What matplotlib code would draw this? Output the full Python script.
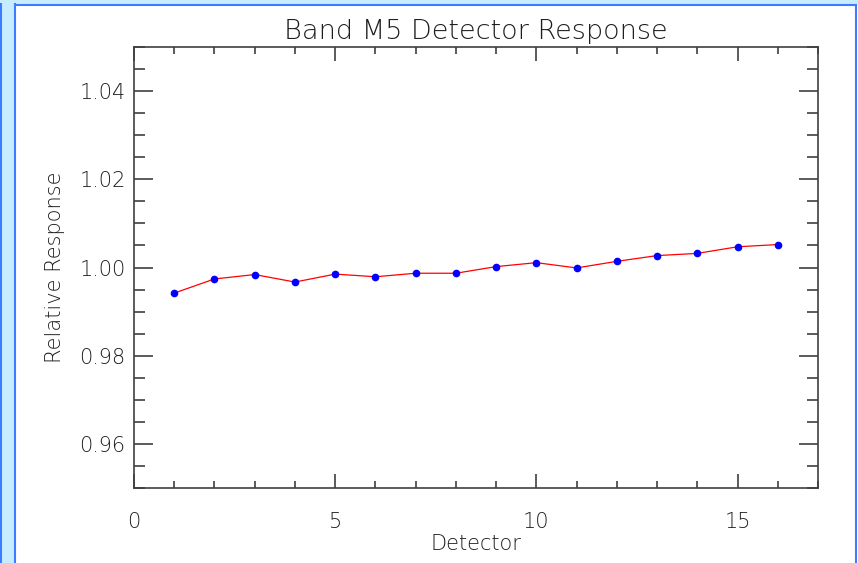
import matplotlib
matplotlib.use('Agg')
import matplotlib.pyplot as plt
from matplotlib.patches import Rectangle
from matplotlib.ticker import MultipleLocator

detectors = [1, 2, 3, 4, 5, 6, 7, 8, 9, 10, 11, 12, 13, 14, 15, 16]
response = [0.9942, 0.9974, 0.9984, 0.9967, 0.9985, 0.9979, 0.9987, 0.9987,
            1.0002, 1.0011, 0.9999, 1.0014, 1.0027, 1.0032, 1.0047, 1.0052]

plt.rcParams['font.family'] = ['DejaVu Sans']
plt.rcParams['font.weight'] = 'light'
txt = '#1e1e1e'

fig = plt.figure(figsize=(8.58, 5.63), dpi=100)
W, H = 858, 563

# window frame on left/top/right edges
fig.patches.append(Rectangle((0, 0), 15 / W, 1, transform=fig.transFigure,
                             facecolor='#c8ecff', edgecolor='none', zorder=0))
fig.patches.append(Rectangle((0, 1 - 4 / H), 1, 4 / H, transform=fig.transFigure,
                             facecolor='#c8ecff', edgecolor='none', zorder=0))
for x in (0.5, 15):
    fig.add_artist(plt.Line2D([x / W, x / W], [0, 1 - 4 / H], transform=fig.transFigure,
                              color='#3d7cff', lw=1.5))
fig.add_artist(plt.Line2D([15 / W, 856 / W], [1 - 4.5 / H, 1 - 4.5 / H],
                          transform=fig.transFigure, color='#3d7cff', lw=1.5))
fig.add_artist(plt.Line2D([856 / W, 856 / W], [0, 1 - 4.5 / H], transform=fig.transFigure,
                          color='#3d7cff', lw=1.5))

ax = fig.add_axes([134 / W, 1 - 488 / H, (818 - 134) / W, (488 - 47) / H])
ax.plot(detectors, response, color='red', lw=0.9)
ax.plot(detectors, response, 'o', color='blue', ms=4.5)

ax.set_xlim(0, 17)
ax.set_ylim(0.95, 1.05)
ax.xaxis.set_major_locator(MultipleLocator(5))
ax.xaxis.set_minor_locator(MultipleLocator(1))
ax.yaxis.set_major_locator(MultipleLocator(0.02))
ax.yaxis.set_minor_locator(MultipleLocator(0.005))
ax.yaxis.set_major_formatter(matplotlib.ticker.FormatStrFormatter('%.2f'))

ax.tick_params(which='both', direction='in', top=True, right=True,
               colors='#404040', labelcolor=txt, labelsize=15)
ax.tick_params(axis='y', which='major', length=14, width=1.2, pad=6)
ax.tick_params(axis='y', which='minor', length=8, width=1.2)
ax.tick_params(axis='x', which='major', length=10, width=1.2, pad=17)
ax.tick_params(axis='x', which='minor', length=5, width=1.2)
for s in ax.spines.values():
    s.set_color('#404040')
    s.set_linewidth(1.2)

ax.set_title('Band M5 Detector Response', fontsize=19.5, fontweight='light',
             color=txt, pad=6)
ax.set_xlabel('Detector', fontsize=15, fontweight='light', color=txt, labelpad=2)
ax.set_ylabel('Relative Response', fontsize=15, fontweight='light', color=txt,
              labelpad=10)

fig.savefig('out.png', dpi=100)
